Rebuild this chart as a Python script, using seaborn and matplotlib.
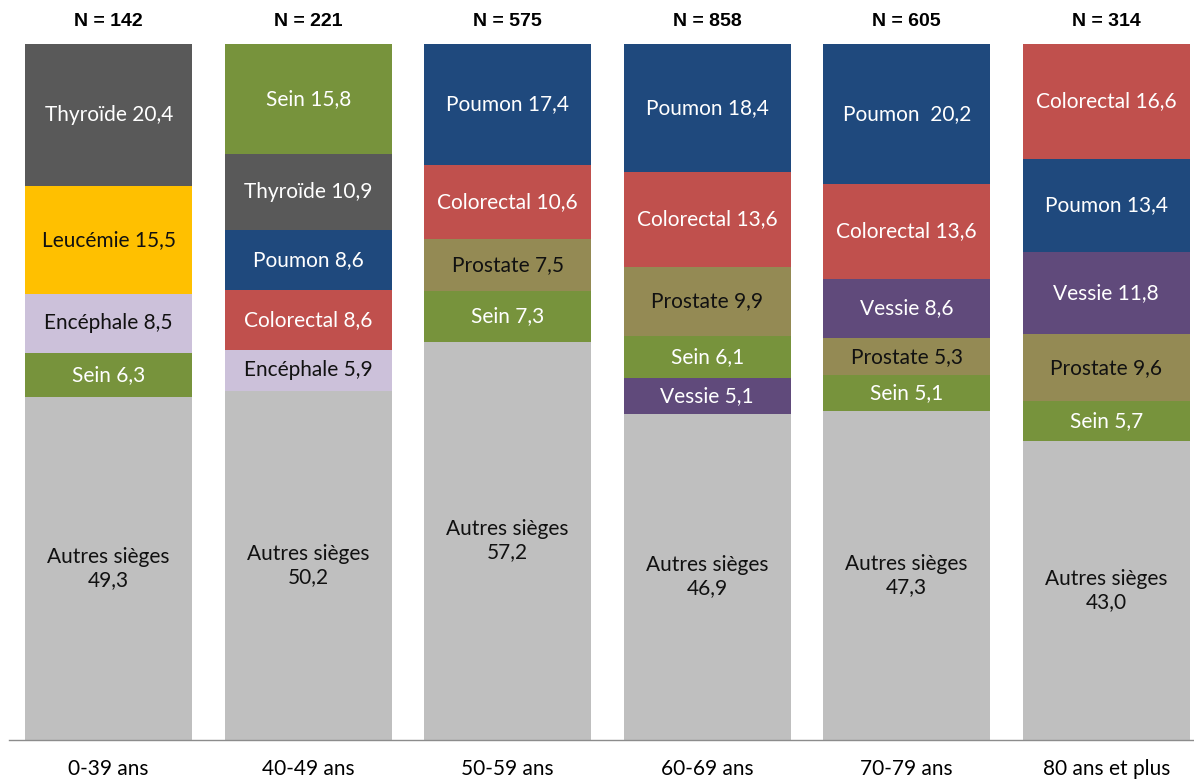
import matplotlib
matplotlib.use("Agg")
import matplotlib.pyplot as plt
import seaborn as sns
import pandas as pd

# Age groups and number of cases per group
groups = ["0-39 ans", "40-49 ans", "50-59 ans", "60-69 ans", "70-79 ans", "80 ans et plus"]
n_cases = [142, 221, 575, 858, 605, 314]

# Stacking order for each group, bottom to top, with percentages
stack_sites = [
    ["Autres sièges", "Sein", "Encéphale", "Leucémie", "Thyroïde"],
    ["Autres sièges", "Encéphale", "Colorectal", "Poumon", "Thyroïde", "Sein"],
    ["Autres sièges", "Sein", "Prostate", "Colorectal", "Poumon"],
    ["Autres sièges", "Vessie", "Sein", "Prostate", "Colorectal", "Poumon"],
    ["Autres sièges", "Sein", "Prostate", "Vessie", "Colorectal", "Poumon"],
    ["Autres sièges", "Sein", "Prostate", "Vessie", "Poumon", "Colorectal"],
]
stack_values = [
    [49.3, 6.3, 8.5, 15.5, 20.4],
    [50.2, 5.9, 8.6, 8.6, 10.9, 15.8],
    [57.2, 7.3, 7.5, 10.6, 17.4],
    [46.9, 5.1, 6.1, 9.9, 13.6, 18.4],
    [47.3, 5.1, 5.3, 8.6, 13.6, 20.2],
    [43.0, 5.7, 9.6, 11.8, 13.4, 16.6],
]

site_colors = {
    "Autres sièges": "#BFBFBF",
    "Thyroïde": "#595959",
    "Leucémie": "#FFC000",
    "Encéphale": "#CCC1DA",
    "Sein": "#77933C",
    "Poumon": "#1F497D",
    "Colorectal": "#C0504D",
    "Prostate": "#948A54",
    "Vessie": "#604A7B",
}
dark_text = {"Autres sièges", "Leucémie", "Encéphale", "Prostate"}

sns.set_theme(style="white")
plt.rcParams["font.family"] = ["Lato", "DejaVu Sans"]

fig = plt.figure(figsize=(11.94, 7.81), dpi=100)
ax = fig.add_axes([9 / 1194, 1 - 740 / 781, 1185 / 1194, 696 / 781])

# Long table of segments with their bottoms
rows = []
for gi, (sites, vals) in enumerate(zip(stack_sites, stack_values)):
    base = 0.0
    for s, v in zip(sites, vals):
        rows.append({"groupe": groups[gi], "site": s, "pct": v, "base": base})
        base += v
df = pd.DataFrame(rows)

# One stacked segment at a time
for _, r in df.iterrows():
    seg = pd.DataFrame({"groupe": [r["groupe"]], "pct": [r["pct"]]})
    sns.barplot(data=seg, x="groupe", y="pct", order=groups,
                color=site_colors[r["site"]], saturation=1,
                bottom=r["base"], width=0.837, linewidth=0, ax=ax)

# Segment labels
gpos = {g: i for i, g in enumerate(groups)}
for _, r in df.iterrows():
    x = gpos[r["groupe"]]
    y = r["base"] + r["pct"] / 2
    val = f"{r['pct']:.1f}".replace(".", ",")
    if r["site"] == "Autres sièges":
        txt = f"Autres sièges\n{val}"
    elif r["site"] == "Poumon" and r["groupe"] == "70-79 ans":
        txt = f"Poumon  {val}"
    else:
        txt = f"{r['site']} {val}"
    col = "#111111" if r["site"] in dark_text else "white"
    ax.text(x, y, txt, ha="center", va="center", fontsize=15, color=col,
            linespacing=1.2)

# N per group above bars
for i, n in enumerate(n_cases):
    ax.text(i, 100 + 3.3, f"N = {n}", ha="center", va="center", fontsize=14,
            fontweight="bold", family=["Liberation Sans", "DejaVu Sans"],
            color="black", clip_on=False)

ax.set_xlim(-0.5, 5.44)
ax.set_ylim(0, 100)
ax.set_xlabel("")
ax.set_ylabel("")
ax.set_yticks([])
ax.tick_params(axis="x", length=0, pad=14, labelsize=15, labelcolor="black")
for side in ["top", "right", "left"]:
    ax.spines[side].set_visible(False)
ax.spines["bottom"].set_color("#8C8C8C")
ax.spines["bottom"].set_linewidth(1.0)

fig.savefig("out.png", dpi=100, facecolor="white")
